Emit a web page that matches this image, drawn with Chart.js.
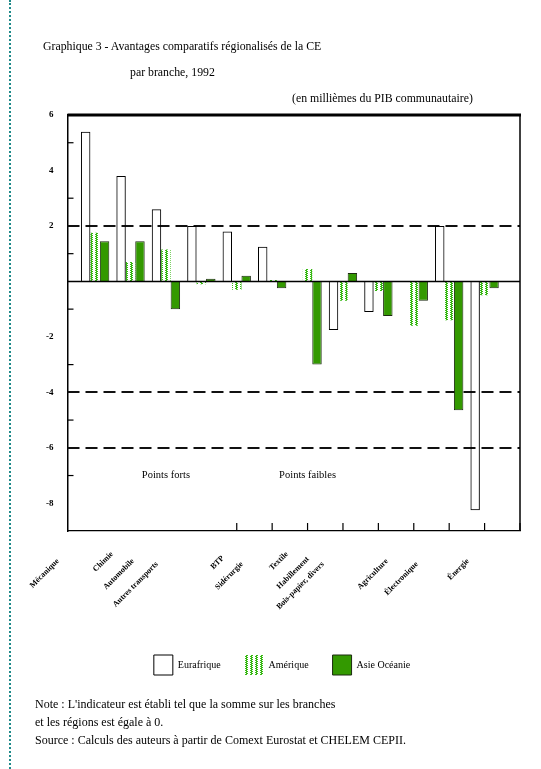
<!DOCTYPE html>
<html><head><meta charset="utf-8">
<script src="https://cdn.jsdelivr.net/npm/chart.js@4.4.0/dist/chart.umd.min.js"></script>
<style>
html,body{margin:0;padding:0;background:#fff;}
#wrap{position:relative;width:541px;height:769px;overflow:hidden;font-family:"Liberation Serif","DejaVu Serif",serif;color:#000;}
canvas{position:absolute;left:0;top:0;}
.t{position:absolute;white-space:nowrap;font-size:11.8px;line-height:13px;z-index:2;}
.n{font-size:12px;}
#border{position:absolute;left:9px;top:0;height:769px;border-left:2px dotted #1f8a8a;z-index:2;}
</style></head><body>
<div id="wrap">
<canvas id="c" width="541" height="769"></canvas>
<div id="border"></div>
<div class="t" style="left:43px;top:40px">Graphique 3 - Avantages comparatifs régionalisés de la CE</div>
<div class="t" style="left:130px;top:66px">par branche, 1992</div>
<div class="t" style="left:292px;top:92px">(en millièmes du PIB communautaire)</div>
<div class="t n" style="left:35px;top:698px">Note : L'indicateur est établi tel que la somme sur les branches</div>
<div class="t n" style="left:35px;top:716px">et les régions est égale à 0.</div>
<div class="t n" style="left:35px;top:734px">Source : Calculs des auteurs à partir de Comext Eurostat et CHELEM CEPII.</div>
</div>
<script>
// ---- data ----
const categories = ["Mécanique","Chimie","Automobile","Autres transports","BTP","Sidérurgie","Textile","Habillement","Bois-papier, divers","Agriculture","Électronique","Énergie"];
const seriesNames = ["Eurafrique","Amérique","Asie Océanie"];
const eurafrique  = [5.4, 3.8, 2.6, 2.0, 1.8, 1.25, 0, -1.75, -1.1, 0, 2.0, -8.25];
const amerique    = [1.75, 0.7, 1.15, -0.1, -0.3, 0.05, 0.45, -0.7, -0.35, -1.6, -1.4, -0.5];
const asieOceanie = [1.45, 1.45, -1.0, 0.1, 0.2, -0.25, -3.0, 0.3, -1.25, -0.7, -4.65, -0.25];
const yTickLabels = ["6","4","2","-2","-4","-6","-8"];
const dashedLevels = [2, -4, -6];
const notes = [{text:"Points forts", x:2, y:-7},{text:"Points faibles", x:6, y:-7}];

// ---- styling ----
const labelAnchors = [[58,560],[112,553],[133,560],[157,563],[223,557],[242,563],[287,553],[308,558],[323,563],[387,560],[417,563],[468,560]];

function hatch(){
  const c=document.createElement('canvas'); c.width=5; c.height=4;
  const g=c.getContext('2d');
  g.fillStyle='#fff'; g.fillRect(0,0,5,4);
  g.fillStyle='#38b814';
  g.fillRect(0,0,2,1); g.fillRect(1,1,2,1); g.fillRect(0,2,2,1); g.fillRect(1,3,2,1);
  return g.createPattern(c,'repeat');
}
const pat = hatch();
const toXY = arr => arr.map((v,i)=>({x:i,y:v}));

const decor = {
  id:'decor',
  beforeDatasetsDraw(chart){
    const {ctx, chartArea:a, scales:{y}} = chart;
    ctx.save();
    ctx.strokeStyle='#111'; ctx.lineWidth=2; ctx.setLineDash([12,6]);
    dashedLevels.forEach(v=>{
      const py=Math.round(y.getPixelForValue(v));
      ctx.beginPath(); ctx.moveTo(a.left,py); ctx.lineTo(a.right,py); ctx.stroke();
    });
    ctx.restore();
  },
  afterDatasetsDraw(chart){
    const {ctx, chartArea:a, scales:{x,y}} = chart;
    ctx.save();
    ctx.strokeStyle='#000';
    const y0=y.getPixelForValue(0);
    ctx.lineWidth=1.5; ctx.beginPath(); ctx.moveTo(a.left,y0); ctx.lineTo(a.right,y0); ctx.stroke();
    ctx.lineWidth=3; ctx.beginPath(); ctx.moveTo(a.left,a.top); ctx.lineTo(a.right+1,a.top); ctx.stroke();
    ctx.lineWidth=1.5; ctx.beginPath(); ctx.moveTo(a.right,a.top); ctx.lineTo(a.right,a.bottom); ctx.stroke();
    ctx.lineWidth=1.2;
    for(let v=-7; v<=5; v+=2){
      const py=y.getPixelForValue(v);
      ctx.beginPath(); ctx.moveTo(a.left,py); ctx.lineTo(a.left+6,py); ctx.stroke();
    }
    for(let k=4;k<=12;k++){
      const px=x.getPixelForValue(k);
      ctx.beginPath(); ctx.moveTo(px,a.bottom); ctx.lineTo(px,a.bottom-8); ctx.stroke();
    }
    ctx.fillStyle='#000'; ctx.font='10.5px "Liberation Serif", serif';
    ctx.textAlign='center'; ctx.textBaseline='middle';
    notes.forEach(n=>ctx.fillText(n.text, x.getPixelForValue(n.x), y.getPixelForValue(n.y)));
    ctx.font='bold 8px "Liberation Serif", serif';
    ctx.textAlign='right'; ctx.textBaseline='middle';
    categories.forEach((c,i)=>{
      const [ax,ay]=labelAnchors[i];
      ctx.save(); ctx.translate(ax,ay); ctx.rotate(-Math.PI/4); ctx.fillText(c,0,0); ctx.restore();
    });
    ctx.restore();
  }
};

new Chart(document.getElementById('c'), {
  type:'bar',
  data:{datasets:[
    {label:seriesNames[0], data:toXY(eurafrique), backgroundColor:'rgba(255,255,255,0)', borderColor:'#000', borderWidth:1},
    {label:seriesNames[1], data:toXY(amerique), backgroundColor:pat, borderColor:'#38b814', borderWidth:0},
    {label:seriesNames[2], data:toXY(asieOceanie), backgroundColor:'#339900', borderColor:'#1c2a10', borderWidth:1}
  ]},
  options:{
    responsive:false, animation:false, devicePixelRatio:1,
    categoryPercentage:0.8, barPercentage:1.0,
    layout:{padding:{left:44, right:21, top:115, bottom:84}},
    plugins:{
      tooltip:{enabled:false},
      legend:{position:'bottom', labels:{boxWidth:19, boxHeight:20, padding:24, color:'#000', font:{family:'"Liberation Serif", serif', size:10}}}
    },
    scales:{
      x:{type:'linear', offset:false, min:-0.78, max:12, grid:{display:false}, ticks:{display:false},
         border:{display:true, color:'#000', width:1.2}, afterFit(s){s.height=100;}},
      y:{min:-9, max:6, grid:{display:false, drawTicks:false},
         border:{display:true, color:'#000', width:1.5},
         ticks:{stepSize:1, autoSkip:false, padding:14, color:'#000', font:{family:'"Liberation Serif", serif', size:9, weight:'bold'},
           callback:(v)=> yTickLabels.includes(String(v)) ? String(v) : ''},
         afterFit(s){s.width=23.5;}}
    }
  },
  plugins:[decor]
});
</script>
</body></html>
